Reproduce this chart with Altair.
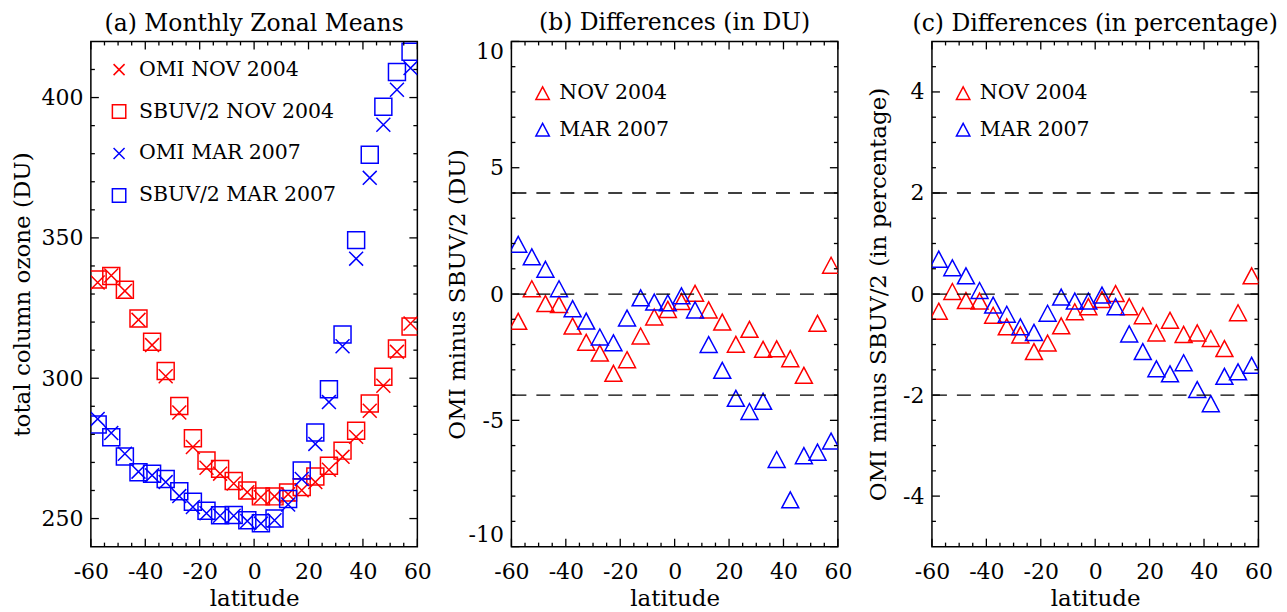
import altair as alt
import pandas as pd

FONT = "DejaVu Serif"
RED = "#ff0000"
BLUE = "#0000ff"
W, H = 327, 506

latitude = [-57.5, -52.5, -47.5, -42.5, -37.5, -32.5, -27.5, -22.5, -17.5, -12.5, -7.5, -2.5,
            2.5, 7.5, 12.5, 17.5, 22.5, 27.5, 32.5, 37.5, 42.5, 47.5, 52.5, 57.5]

omi_nov = [334.1, 336.6, 331.1, 320.8, 311.8, 300.7, 287.8, 275.5, 268.1, 266.0, 262.5, 259.4,
           257.6, 257.9, 258.7, 260.1, 263.0, 267.4, 272.0, 279.1, 288.4, 297.3, 309.4, 319.5]
sbuv_nov = [335.2, 336.4, 331.5, 321.3, 313.0, 302.6, 290.1, 278.6, 270.7, 267.7, 263.4, 260.0,
            257.9, 257.9, 259.3, 261.2, 265.0, 268.8, 274.2, 281.3, 291.0, 300.5, 310.6, 318.4]
omi_mar = [285.5, 280.5, 273.1, 266.7, 265.4, 263.0, 258.0, 254.1, 251.9, 251.0, 251.0, 249.1,
           248.2, 249.4, 255.0, 264.1, 276.6, 291.5, 311.4, 342.6, 371.4, 390.3, 402.8, 410.5]
sbuv_mar = [283.5, 279.0, 272.1, 266.5, 266.0, 264.1, 259.7, 256.0, 252.8, 251.2, 251.3, 249.4,
            248.3, 250.0, 257.0, 267.1, 280.7, 296.1, 315.6, 349.2, 379.6, 396.7, 409.1, 416.3]

diff_du_nov = [-1.08, 0.21, -0.38, -0.42, -1.27, -1.91, -2.34, -3.14, -2.60, -1.66, -0.91, -0.61,
               -0.30, 0.03, -0.63, -1.11, -1.99, -1.40, -2.19, -2.17, -2.56, -3.22, -1.16, 1.14]
diff_du_mar = [1.97, 1.47, 0.98, 0.21, -0.58, -1.07, -1.70, -1.93, -0.95, -0.15, -0.32, -0.35,
               -0.07, -0.63, -2.00, -3.02, -4.13, -4.65, -4.25, -6.55, -8.15, -6.40, -6.26, -5.82]
diff_pct_nov = [-0.34, 0.05, -0.13, -0.14, -0.42, -0.65, -0.81, -1.14, -0.97, -0.63, -0.35, -0.25,
                -0.11, 0.01, -0.25, -0.43, -0.77, -0.52, -0.80, -0.77, -0.88, -1.08, -0.37, 0.36]
diff_pct_mar = [0.69, 0.52, 0.36, 0.07, -0.22, -0.40, -0.65, -0.76, -0.38, -0.06, -0.14, -0.14,
                -0.02, -0.25, -0.79, -1.14, -1.48, -1.58, -1.36, -1.89, -2.17, -1.63, -1.54, -1.41]

series_a = ["OMI NOV 2004", "SBUV/2 NOV 2004", "OMI MAR 2007", "SBUV/2 MAR 2007"]
series_d = ["NOV 2004", "MAR 2007"]

x_major = [-60, -40, -20, 0, 20, 40, 60]
x_minor = [-55, -50, -45, -35, -30, -25, -15, -10, -5, 5, 10, 15, 25, 30, 35, 45, 50, 55]
ya_major = [250, 300, 350, 400]
ya_minor = [260, 270, 280, 290, 310, 320, 330, 340, 360, 370, 380, 390, 410]
yb_major = [-10, -5, 0, 5, 10]
yb_minor = [-9, -8, -7, -6, -4, -3, -2, -1, 1, 2, 3, 4, 6, 7, 8, 9]
yc_major = [-4, -2, 0, 2, 4]
yc_minor = [-4.5, -3.5, -3, -2.5, -1.5, -1, -0.5, 0.5, 1, 1.5, 2.5, 3, 3.5, 4.5]
ref_b = [4, 0, -4]
ref_c = [2, 0, -2]

XPATH = "M-0.82,-0.82L0.82,0.82M-0.82,0.82L0.82,-0.82"
SQPATH = "M-1,-1H1V1H-1Z"
TRIPATH = "M0,-0.94L1,0.94H-1Z"
HYPHEN = "replace(datum.label, '\u2212', '-')"

XAXIS = alt.Axis(values=x_major, title="latitude", labelPadding=14.8, titlePadding=5,
                 labelFlush=False, labelOverlap=False, labelExpr=HYPHEN)


def yaxis(vals, title, tp):
    return alt.Axis(values=vals, title=title, labelPadding=8, titlePadding=tp,
                    labelFlush=True, labelOverlap=False, labelExpr=HYPHEN)


def tick_layers(xs, ys, yax, ymaj, ymin):
    layers = []
    for vals, L in ((x_major, 8), (x_minor, 4)):
        base = alt.Chart(pd.DataFrame({"v": vals})).mark_rule(color="black", strokeWidth=1.3)
        xe = alt.X("v:Q", scale=xs, axis=XAXIS)
        layers.append(base.encode(x=xe, y=alt.value(H), y2=alt.value(H - L)))
        layers.append(base.encode(x=xe, y=alt.value(0), y2=alt.value(L)))
    for vals, L in ((ymaj, 8), (ymin, 4)):
        base = alt.Chart(pd.DataFrame({"v": vals})).mark_rule(color="black", strokeWidth=1.3)
        ye = alt.Y("v:Q", scale=ys, axis=yax)
        layers.append(base.encode(y=ye, x=alt.value(0), x2=alt.value(L)))
        layers.append(base.encode(y=ye, x=alt.value(W), x2=alt.value(W - L)))
    return layers


def legend(lx, ly, rp, lo):
    return alt.Legend(title=None, orient="none", legendX=lx, legendY=ly, labelFont=FONT,
                      labelFontSize=20.5, labelColor="black", labelOffset=lo, rowPadding=rp,
                      symbolSize=180, symbolStrokeWidth=1.5, padding=0, labelLimit=400)


# ---------- panel (a)
xs = alt.Scale(domain=[-60, 60], nice=False, zero=False)
ys_a = alt.Scale(domain=[240, 420], nice=False, zero=False)
yax_a = yaxis(ya_major, "total column ozone (DU)", 6.2)
rows = []
for name, vals in zip(series_a, [omi_nov, sbuv_nov, omi_mar, sbuv_mar]):
    for la, v in zip(latitude, vals):
        rows.append({"lat": la, "value": v, "series": name})
df_a = pd.DataFrame(rows)
leg_a = legend(18, 18, 21, 9.6)
pts_a = alt.Chart(df_a).mark_point(filled=False, strokeWidth=1.5, size=289, opacity=1, clip=True).encode(
    x=alt.X("lat:Q", scale=xs, axis=XAXIS),
    y=alt.Y("value:Q", scale=ys_a, axis=yax_a),
    color=alt.Color("series:N", scale=alt.Scale(domain=series_a, range=[RED, RED, BLUE, BLUE]), legend=leg_a),
    shape=alt.Shape("series:N", scale=alt.Scale(domain=series_a, range=[XPATH, SQPATH, XPATH, SQPATH]), legend=leg_a),
)
panel_a = alt.layer(pts_a, *tick_layers(xs, ys_a, yax_a, ya_major, ya_minor)).properties(
    width=W, height=H, title="(a) Monthly Zonal Means")


def diff_panel(nov, mar, ydom, ymaj, ymin, refs, ytitle, tp, title):
    ys = alt.Scale(domain=ydom, nice=False, zero=False)
    yax = yaxis(ymaj, ytitle, tp)
    rows = []
    for name, vals in zip(series_d, [nov, mar]):
        for la, v in zip(latitude, vals):
            rows.append({"lat": la, "value": v, "series": name})
    df = pd.DataFrame(rows)
    leg = legend(21, 41.5, 15.6, 6.5)
    pts = alt.Chart(df).mark_point(filled=False, strokeWidth=1.5, size=289, opacity=1, clip=True).encode(
        x=alt.X("lat:Q", scale=xs, axis=XAXIS),
        y=alt.Y("value:Q", scale=ys, axis=yax),
        color=alt.Color("series:N", scale=alt.Scale(domain=series_d, range=[RED, BLUE]), legend=leg),
        shape=alt.Shape("series:N", scale=alt.Scale(domain=series_d, range=[TRIPATH, TRIPATH]), legend=leg),
    )
    ref = alt.Chart(pd.DataFrame({"v": refs})).mark_rule(
        color="black", strokeWidth=1.3, strokeDash=[14, 10]).encode(
        y=alt.Y("v:Q", scale=ys, axis=yax))
    return alt.layer(pts, ref, *tick_layers(xs, ys, yax, ymaj, ymin)).properties(
        width=W, height=H, title=title)


panel_b = diff_panel(diff_du_nov, diff_du_mar, [-10, 10], yb_major, yb_minor, ref_b,
                     "OMI minus SBUV/2 (DU)", -1.8, "(b) Differences (in DU)")
panel_c = diff_panel(diff_pct_nov, diff_pct_mar, [-5, 5], yc_major, yc_minor, ref_c,
                     "OMI minus SBUV/2 (in percentage)", 12.2, "(c) Differences (in percentage)")

chart = alt.hconcat(panel_a, panel_b, panel_c, spacing=13.2).resolve_scale(
    color="independent", shape="independent"
).properties(
    padding={"left": 3, "top": 2, "right": 0, "bottom": 0}, background="white"
).configure_view(
    stroke="black", strokeWidth=1.5
).configure_axis(
    labelFont=FONT, labelFontSize=22, labelColor="black",
    titleFont=FONT, titleFontSize=23, titleColor="black", titleFontWeight="normal",
    ticks=False, tickSize=0, domain=False, grid=False
).configure_title(
    font=FONT, fontSize=23.5, fontWeight="normal", color="black", anchor="middle", offset=5.5
)

chart.save("out.html", embed_options={"renderer": "svg", "actions": False})
